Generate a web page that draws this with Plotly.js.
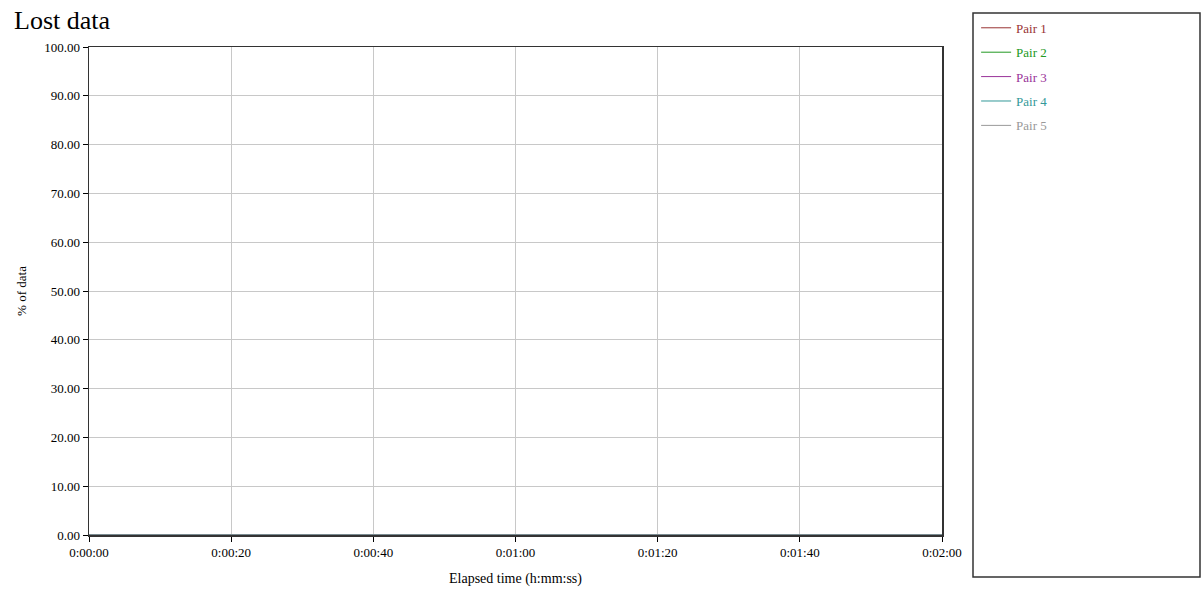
<!DOCTYPE html>
<html>
<head>
<meta charset="utf-8">
<script src="https://cdn.plot.ly/plotly-3.0.1.min.js"></script>
<style>html,body{margin:0;padding:0;background:#fff;}#chart{width:1201px;height:596px;}</style>
</head>
<body>
<div id="chart"></div>
<script>
// Elapsed time in seconds
const times = [0, 20, 40, 60, 80, 100, 120];
const tickVals = [0, 20, 40, 60, 80, 100, 120];
const tickText = ["0:00:00", "0:00:20", "0:00:40", "0:01:00", "0:01:20", "0:01:40", "0:02:00"];
const seriesNames = ["Pair 1", "Pair 2", "Pair 3", "Pair 4", "Pair 5"];
const seriesColors = ["#993333", "#229922", "#993399", "#339999", "#999999"];
const pair1 = [0, 0, 0, 0, 0, 0, 0];
const pair2 = [0, 0, 0, 0, 0, 0, 0];
const pair3 = [0, 0, 0, 0, 0, 0, 0];
const pair4 = [0, 0, 0, 0, 0, 0, 0];
const pair5 = [0, 0, 0, 0, 0, 0, 0];
const seriesValues = [pair1, pair2, pair3, pair4, pair5];

const FONT = "Liberation Serif, Times New Roman, serif";

const traces = seriesNames.map((n, i) => ({
  x: times,
  y: seriesValues[i],
  type: "scatter",
  mode: "lines",
  name: '<span style="color:' + seriesColors[i] + '">' + n + '</span>',
  legendgroup: "g" + i,
  line: {color: seriesColors[i], width: 1}
}));

const layout = {
  width: 1201, height: 596,
  margin: {l: 89, r: 259, t: 47, b: 61},
  paper_bgcolor: "#fff", plot_bgcolor: "#fff",
  font: {family: FONT, size: 13, color: "#000"},
  title: {text: "Lost data", x: 14/1201, xanchor: "left", xref: "container", y: 1 - 20/596, yanchor: "middle", yref: "container",
          font: {family: FONT, size: 26, color: "#000"}},
  xaxis: {
    range: [0, 120], tickvals: tickVals, ticktext: tickText,
    showgrid: true, gridcolor: "#c8c8c8", gridwidth: 1,
    showline: true, linecolor: "#333", linewidth: 1.5, mirror: true,
    ticks: "outside", ticklen: 5, tickcolor: "#000",
    zeroline: false, layer: "above traces",
    tickfont: {family: FONT, size: 13},
    title: {text: "Elapsed time (h:mm:ss)", font: {family: FONT, size: 14}, standoff: 14}
  },
  yaxis: {
    range: [0, 100], dtick: 10, tickformat: ".2f",
    showgrid: true, gridcolor: "#c8c8c8", gridwidth: 1,
    showline: true, linecolor: "#333", linewidth: 1.5, mirror: true,
    ticks: "outside", ticklen: 5, tickcolor: "#000",
    zeroline: false, layer: "above traces",
    tickfont: {family: FONT, size: 13},
    title: {text: "% of data", font: {family: FONT, size: 13}, standoff: 14}
  },
  showlegend: true,
  legend: {
    x: 1.04, y: 1.07, xanchor: "left", yanchor: "top",
    bgcolor: "rgba(0,0,0,0)", borderwidth: 0,
    font: {family: FONT, size: 13},
    tracegroupgap: 4.5, itemwidth: 30
  },
  shapes: [{
    type: "rect", xref: "paper", yref: "paper",
    x0: (973-89)/853, x1: (1200-89)/853, y0: (535-577)/488, y1: (535-13)/488,
    line: {color: "#333", width: 1.5}, fillcolor: "rgba(0,0,0,0)"
  }]
};

Plotly.newPlot("chart", traces, layout, {displayModeBar: false, staticPlot: true});
</script>
</body>
</html>
